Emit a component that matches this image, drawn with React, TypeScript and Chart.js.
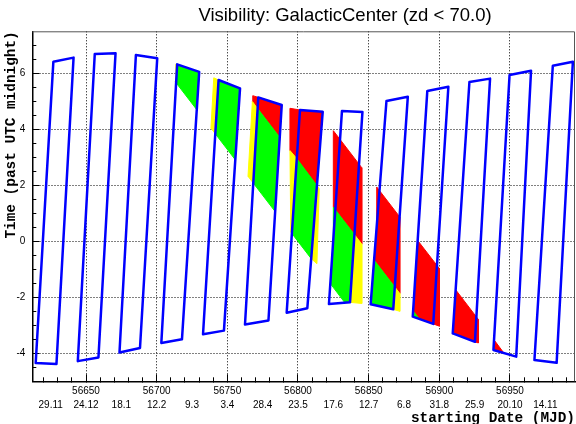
import React, { useEffect, useRef } from 'react';
import { Chart, registerables } from 'chart.js';

Chart.register(...registerables);

const chartTitle = 'Visibility: GalacticCenter (zd < 70.0)';
const xTitle = 'starting Date (MJD)';
const yTitle = 'Time (past UTC midnight)';

const mjdMin = 56612;
const mjdMax = 56996;
const hourMin = -5;
const hourMax = 7.5;

const mjdTicks = [56650, 56700, 56750, 56800, 56850, 56900, 56950];
const dateTickMjd = [56625, 56650, 56675, 56700, 56725, 56750, 56775, 56800, 56825, 56850, 56875, 56900, 56925, 56950, 56975];
const dateTickLabels = ['29.11', '24.12', '18.1', '12.2', '9.3', '3.4', '28.4', '23.5', '17.6', '12.7', '6.8', '31.8', '25.9', '20.10', '14.11'];
const hourTicks = [-4, -2, 0, 2, 4, 6];

// dark-time windows (blue outlines): corners bottom-left, top-left, top-right, bottom-right
const blMjd = [56614.4, 56644.2, 56673.7, 56703.3, 56732.8, 56762.5, 56792.0, 56821.9, 56851.4, 56881.2, 56909.5, 56938.3, 56967.3];
const blHour = [-4.35, -4.28, -3.97, -3.63, -3.32, -2.97, -2.55, -2.24, -2.25, -2.69, -3.29, -3.88, -4.24];
const tlMjd = [56626.9, 56656.2, 56685.3, 56714.5, 56743.8, 56771.9, 56801.4, 56831.1, 56862.6, 56891.5, 56921.3, 56949.7, 56980.3];
const tlHour = [6.41, 6.69, 6.65, 6.32, 5.76, 5.14, 4.69, 4.65, 5.01, 5.37, 5.69, 5.94, 6.27];
const trMjd = [56641.2, 56670.9, 56700.4, 56730.1, 56759.0, 56788.5, 56817.5, 56845.6, 56877.7, 56906.4, 56935.9, 56964.9, 56994.5];
const trHour = [6.56, 6.72, 6.54, 6.05, 5.46, 4.87, 4.63, 4.62, 5.16, 5.52, 5.81, 6.09, 6.41];
const brMjd = [56629.1, 56658.8, 56688.2, 56717.9, 56747.6, 56779.1, 56806.6, 56836.8, 56867.4, 56895.7, 56925.2, 56954.4, 56983.0];
const brHour = [-4.38, -4.15, -3.81, -3.5, -3.19, -2.83, -2.39, -2.18, -2.43, -2.95, -3.59, -4.12, -4.34];

// coloured patches: [mjd, hour] vertices
const greenPatches: number[][][] = [
  [[56713.76, 5.66], [56714.5, 6.32], [56730.1, 6.05], [56728.37, 4.70]],
  [[56741.48, 3.84], [56743.8, 5.76], [56759.0, 5.46], [56755.64, 2.91]],
  [[56771.44, 4.74], [56787.1, 3.71], [56783.85, 1.06], [56768.35, 2.08]],
  [[56799.1, 2.96], [56813.4, 1.99], [56809.35, -0.62], [56795.67, 0.28]],
  [[56825.0, 1.22], [56839.94, 0.24], [56836.8, -2.18], [56833.1, -2.19], [56822.88, -1.51], [56825.0, 0.08]],
  [[56853.84, -0.67], [56868.48, -1.63], [56867.4, -2.43], [56851.4, -2.25]],
  [[56881.46, -2.49], [56885.8, -2.77], [56881.2, -2.69]],
];
const yellowPatches: number[][][] = [
  [[56713.0, 5.71], [56713.6, 6.33], [56714.5, 6.32], [56713.76, 5.66]],
  [[56738.4, 4.04], [56740.4, 5.84], [56743.8, 5.76], [56741.48, 3.84]],
  [[56767.72, 4.99], [56771.44, 4.74], [56768.35, 2.08], [56764.63, 2.32]],
  [[56794.3, 3.24], [56799.1, 2.96], [56795.67, 0.28], [56794.9, 0.33]],
  [[56813.4, 1.99], [56815.0, 1.88], [56813.4, -0.80], [56809.35, -0.62]],
  [[56839.94, 0.24], [56845.1, -0.10], [56845.1, -2.22], [56836.8, -2.18]],
  [[56868.48, -1.63], [56872.0, -1.86], [56872.0, -2.50], [56867.4, -2.43]],
];
const redPatches: number[][][] = [
  [[56768.0, 5.20], [56771.9, 5.14], [56788.5, 4.87], [56787.1, 3.71], [56767.72, 4.99]],
  [[56794.3, 4.75], [56801.4, 4.69], [56817.5, 4.63], [56813.4, 1.99], [56794.3, 3.24]],
  [[56825.0, 3.95], [56845.1, 2.63], [56845.1, -0.10], [56825.0, 1.22]],
  [[56855.7, 1.94], [56872.0, 0.87], [56872.0, -1.86], [56853.84, -0.67], [56855.7, 0.55]],
  [[56884.68, 0.03], [56900.0, -0.97], [56900.0, -3.03], [56895.7, -2.95], [56885.8, -2.77], [56881.46, -2.49]],
  [[56911.55, -1.73], [56927.6, -2.79], [56927.6, -3.63], [56925.2, -3.59], [56909.5, -3.29]],
  [[56938.73, -3.52], [56945.5, -3.98], [56938.3, -3.88]],
];

const SANS = 'Liberation Sans';
const MONO = 'Liberation Mono';

const framePlugin = {
  id: 'frameAndTitle',
  afterDraw(chart: any) {
    const { ctx, chartArea: a } = chart;
    ctx.save();
    ctx.strokeStyle = '#555';
    ctx.lineWidth = 1;
    ctx.beginPath();
    ctx.moveTo(a.left, a.top + 0.5);
    ctx.lineTo(a.right - 0.5, a.top + 0.5);
    ctx.lineTo(a.right - 0.5, a.bottom);
    ctx.stroke();
    ctx.fillStyle = '#000';
    ctx.font = `18.5px "${SANS}"`;
    ctx.textAlign = 'center';
    ctx.textBaseline = 'alphabetic';
    ctx.fillText(chartTitle, 345, 21);
    ctx.restore();
  },
};

export default function App() {
  const ref = useRef<HTMLCanvasElement>(null);

  useEffect(() => {
    const canvas = ref.current;
    if (!canvas) return;

    const outlines = blMjd.map((_, i) => ({
      data: [
        { x: blMjd[i], y: blHour[i] },
        { x: tlMjd[i], y: tlHour[i] },
        { x: trMjd[i], y: trHour[i] },
        { x: brMjd[i], y: brHour[i] },
        { x: blMjd[i], y: blHour[i] },
      ],
      borderColor: '#0000ff',
      borderWidth: 2.5,
      fill: false,
      pointRadius: 0,
      borderJoinStyle: 'round',
      borderCapStyle: 'round',
      order: 0,
    }));

    const patches = (polys: number[][][], color: string) =>
      polys.map((p) => ({
        data: [...p, p[0]].map(([x, y]) => ({ x, y })),
        borderColor: color,
        backgroundColor: color,
        borderWidth: 1,
        fill: 'shape',
        pointRadius: 0,
        order: 1,
      }));

    const tickFont = { family: SANS, size: 10 };
    const titleFont = { family: MONO, size: 14.4, weight: 'bold' as const };
    const transparent = 'rgba(0,0,0,0)';

    const chart = new Chart(canvas, {
      type: 'line',
      data: {
        datasets: [
          ...outlines,
          ...patches(greenPatches, '#00ff00'),
          ...patches(yellowPatches, '#ffff00'),
          ...patches(redPatches, '#ff0000'),
        ] as any,
      },
      options: {
        responsive: false,
        animation: false,
        events: [],
        layout: { padding: { top: 31.3, right: 1, bottom: 0, left: 0 }, autoPadding: false },
        plugins: {
          legend: { display: false },
          tooltip: { enabled: false },
          title: { display: false },
        },
        scales: {
          x: {
            type: 'linear',
            position: 'bottom',
            min: mjdMin,
            max: mjdMax,
            weight: 0,
            z: 1,
            afterBuildTicks: (s: any) => {
              const t = [];
              for (let v = 56620; v <= mjdMax; v += 10) t.push({ value: v });
              s.ticks = t;
            },
            afterFit: (s: any) => {
              s.height = 17;
            },
            ticks: {
              autoSkip: false,
              maxRotation: 0,
              padding: 8.4,
              color: '#000',
              font: tickFont,
              callback: (v: any) => (mjdTicks.includes(Number(v)) ? String(v) : ''),
            },
            grid: {
              color: (c: any) => (c.tick && mjdTicks.includes(c.tick.value) ? '#000' : transparent),
              lineWidth: 1,
              tickLength: -4,
              tickColor: '#000',
              tickWidth: 1,
            },
            border: { display: true, color: '#000', width: 1.5, dash: [1, 2] },
          },
          xMaj: {
            type: 'linear',
            position: 'bottom',
            min: mjdMin,
            max: mjdMax,
            weight: -1,
            z: 1,
            afterBuildTicks: (s: any) => {
              s.ticks = mjdTicks.map((v) => ({ value: v }));
            },
            afterFit: (s: any) => {
              s.height = 0;
            },
            ticks: { display: false },
            grid: { drawOnChartArea: false, tickLength: -7, tickColor: '#000', color: '#000', tickWidth: 1 },
            border: { display: false },
          },
          x2: {
            type: 'linear',
            position: 'bottom',
            min: mjdMin,
            max: mjdMax,
            weight: 1,
            afterBuildTicks: (s: any) => {
              s.ticks = dateTickMjd.map((v) => ({ value: v }));
            },
            afterFit: (s: any) => {
              s.height = 25.7;
            },
            ticks: {
              autoSkip: false,
              maxRotation: 0,
              padding: 0.7,
              color: '#000',
              font: tickFont,
              callback: (_v: any, i: number) => dateTickLabels[i],
            },
            grid: { display: false, drawTicks: false },
            border: { display: false },
            title: {
              display: true,
              text: xTitle,
              align: 'end',
              color: '#000',
              font: titleFont,
              padding: { top: 0, bottom: -2.7 },
            },
          },
          y: {
            type: 'linear',
            position: 'left',
            min: hourMin,
            max: hourMax,
            weight: 0,
            z: 1,
            afterBuildTicks: (s: any) => {
              const t = [];
              for (let v = -4.5; v <= 7.0001; v += 0.5) t.push({ value: v });
              s.ticks = t;
            },
            afterFit: (s: any) => {
              s.width = 32.3;
            },
            ticks: {
              padding: 11,
              color: '#000',
              font: tickFont,
              callback: (v: any) => (hourTicks.includes(Number(v)) ? String(v) : ''),
            },
            grid: {
              color: (c: any) => (c.tick && hourTicks.includes(c.tick.value) ? '#000' : transparent),
              lineWidth: 1,
              tickLength: -4,
              tickColor: '#000',
              tickWidth: 1,
            },
            border: { display: true, color: '#000', width: 1.5, dash: [1, 2] },
            title: {
              display: true,
              text: yTitle,
              align: 'end',
              color: '#000',
              font: titleFont,
              padding: { top: 3.0, bottom: 0 },
            },
          },
          yMaj: {
            type: 'linear',
            position: 'left',
            min: hourMin,
            max: hourMax,
            weight: -1,
            z: 1,
            afterBuildTicks: (s: any) => {
              s.ticks = hourTicks.map((v) => ({ value: v }));
            },
            afterFit: (s: any) => {
              s.width = 0;
            },
            ticks: { display: false },
            grid: { drawOnChartArea: false, tickLength: -7, tickColor: '#000', color: '#000', tickWidth: 1 },
            border: { display: false },
          },
        } as any,
      },
      plugins: [framePlugin],
    });

    return () => chart.destroy();
  }, []);

  return (
    <div style={{ position: 'absolute', left: 0, top: 0, width: 576, height: 424, background: '#fff' }}>
      <canvas ref={ref} width={576} height={424} style={{ display: 'block' }} />
    </div>
  );
}
